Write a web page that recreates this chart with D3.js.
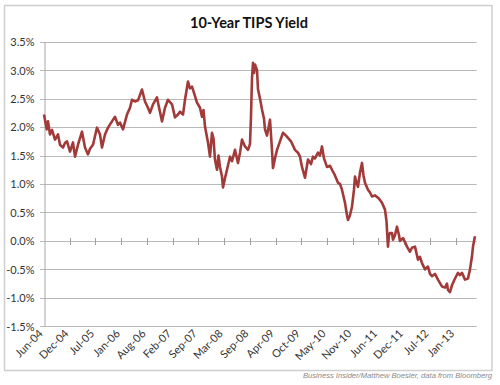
<!DOCTYPE html>
<html>
<head>
<meta charset="utf-8">
<script src="https://cdn.jsdelivr.net/npm/d3@7"></script>
<style>
	body { margin: 0; background: #fff; }
</style>
</head>
<body>
<script>
const chartTitle = "10-Year TIPS Yield";
const sourceNote = "Business Insider/Matthew Boesler, data from Bloomberg";

// one label every ~6.5 months (Excel category axis label interval)
const tickLabels = ["Jun-04", "Dec-04", "Jul-05", "Jan-06", "Aug-06", "Feb-07", "Sep-07", "Mar-08",
	"Sep-08", "Apr-09", "Oct-09", "May-10", "Nov-10", "Jun-11", "Dec-11", "Jul-12", "Jan-13"];

const yTicks = [3.5, 3.0, 2.5, 2.0, 1.5, 1.0, 0.5, 0.0, -0.5, -1.0, -1.5];

// [period since Jun-04 (label intervals), yield %]
const tipsYield = [
	[0.000, 2.22], [0.105, 1.96], [0.155, 2.10], [0.233, 1.87], [0.311, 1.95], [0.428, 1.78],
	[0.544, 1.87], [0.622, 1.69], [0.739, 1.64], [0.816, 1.72], [0.894, 1.75], [1.011, 1.57],
	[1.127, 1.73], [1.205, 1.48], [1.322, 1.69], [1.477, 1.92], [1.594, 1.64], [1.710, 1.52],
	[1.788, 1.62], [1.905, 1.69], [2.060, 1.99], [2.177, 1.87], [2.254, 1.64], [2.371, 1.87],
	[2.488, 1.99], [2.643, 2.10], [2.760, 2.18], [2.876, 2.04], [2.954, 2.08], [3.071, 1.96],
	[3.226, 2.22], [3.343, 2.34], [3.421, 2.48], [3.537, 2.45], [3.654, 2.47], [3.809, 2.66],
	[3.926, 2.45], [4.042, 2.34], [4.120, 2.25], [4.237, 2.40], [4.392, 2.52], [4.470, 2.35],
	[4.587, 2.10], [4.703, 2.34], [4.820, 2.48], [4.975, 2.40], [5.092, 2.17], [5.209, 2.22],
	[5.286, 2.27], [5.403, 2.22], [5.481, 2.48], [5.597, 2.80], [5.675, 2.68], [5.753, 2.71],
	[5.831, 2.60], [5.947, 2.43], [6.064, 2.34], [6.141, 2.18], [6.200, 2.30], [6.258, 2.01],
	[6.375, 1.73], [6.452, 1.48], [6.530, 1.90], [6.588, 1.80], [6.646, 1.43], [6.724, 1.25],
	[6.783, 1.50], [6.841, 1.30], [6.919, 1.13], [6.958, 0.94], [7.035, 1.10], [7.113, 1.25],
	[7.230, 1.48], [7.308, 1.40], [7.424, 1.60], [7.541, 1.37], [7.619, 1.55], [7.696, 1.78],
	[7.813, 1.66], [7.930, 1.60], [8.007, 1.70], [8.046, 2.18], [8.085, 2.85], [8.124, 3.13],
	[8.163, 2.95], [8.202, 3.10], [8.280, 3.00], [8.319, 2.66], [8.397, 2.50], [8.474, 2.31],
	[8.551, 2.15], [8.590, 1.96], [8.668, 1.85], [8.785, 2.13], [8.862, 1.60], [8.901, 1.28],
	[8.979, 1.45], [9.057, 1.60], [9.173, 1.75], [9.290, 1.90], [9.407, 1.85], [9.484, 1.81],
	[9.601, 1.75], [9.756, 1.60], [9.873, 1.55], [9.951, 1.48], [10.028, 1.30], [10.145, 1.11],
	[10.262, 1.43], [10.378, 1.35], [10.456, 1.48], [10.534, 1.45], [10.650, 1.55], [10.728, 1.50],
	[10.806, 1.66], [10.884, 1.45], [11.000, 1.30], [11.117, 1.32], [11.195, 1.25], [11.311, 1.15],
	[11.428, 1.02], [11.506, 1.00], [11.583, 0.90], [11.700, 0.67], [11.778, 0.45], [11.816, 0.37],
	[11.894, 0.45], [11.972, 0.60], [12.050, 0.90], [12.089, 1.13], [12.166, 1.00], [12.205, 0.95],
	[12.283, 1.20], [12.361, 1.37], [12.419, 1.15], [12.477, 1.02], [12.594, 0.90], [12.672, 0.85],
	[12.749, 0.78], [12.866, 0.80], [12.982, 0.76], [13.060, 0.72], [13.138, 0.67], [13.255, 0.55],
	[13.313, 0.35], [13.371, -0.10], [13.410, 0.10], [13.449, 0.14], [13.527, 0.14], [13.566, 0.02],
	[13.643, 0.10], [13.721, 0.25], [13.799, 0.10], [13.838, 0.00], [13.954, 0.05], [14.032, -0.02],
	[14.110, -0.10], [14.226, -0.19], [14.304, -0.12], [14.421, -0.10], [14.538, -0.33], [14.615, -0.28],
	[14.693, -0.39], [14.810, -0.50], [14.926, -0.45], [15.004, -0.58], [15.082, -0.62], [15.198, -0.58],
	[15.315, -0.68], [15.393, -0.74], [15.470, -0.80], [15.587, -0.82], [15.665, -0.75], [15.703, -0.86],
	[15.781, -0.90], [15.859, -0.78], [15.976, -0.66], [16.092, -0.56], [16.170, -0.60], [16.248, -0.56],
	[16.365, -0.68], [16.481, -0.66], [16.559, -0.50], [16.637, -0.27], [16.676, -0.10], [16.753, 0.08]
];

const width = 500, height = 385;
const MARGIN = { top: 41.7, right: 23.3, bottom: 58.7, left: 44 };
const FONT = "Lato, 'Open Sans', sans-serif";
const GRID = "#b9b9b9";
const LINE_COLOR = "#a23a3a";

const svg = d3.select("body").append("svg")
	.attr("width", width)
	.attr("height", height);

svg.append("rect")
	.attr("x", 4.5)
	.attr("y", 5.5)
	.attr("width", 487.5)
	.attr("height", 365)
	.attr("fill", "#fff")
	.attr("stroke", "#cfcfcf")
	.attr("stroke-width", 1.5);

svg.append("text")
	.attr("x", 249)
	.attr("y", 28)
	.attr("text-anchor", "middle")
	.attr("font-family", FONT)
	.attr("font-weight", "bold")
	.attr("font-size", "14.5px")
	.attr("fill", "#111")
	.text(chartTitle);

const x = d3.scaleLinear()
	.domain([0, 16.82])
	.range([MARGIN.left, width - MARGIN.right]);

const y = d3.scaleLinear()
	.domain([-1.5, 3.5])
	.range([height - MARGIN.bottom, MARGIN.top]);

const crisp = v => Math.round(v) + 0.5;

// horizontal gridlines
svg.append("g")
	.selectAll("line")
	.data(yTicks)
	.join("line")
	.attr("x1", MARGIN.left - 4)
	.attr("x2", width - MARGIN.right)
	.attr("y1", d => crisp(y(d)))
	.attr("y2", d => crisp(y(d)))
	.attr("stroke", GRID)
	.attr("stroke-width", 1);

// y axis
const yAxisGroup = svg.append("g")
	.attr("transform", `translate(${crisp(MARGIN.left)},0)`)
	.call(d3.axisLeft(y)
		.tickValues(yTicks)
		.tickSize(0)
		.tickPadding(10)
		.tickFormat(d => d.toFixed(1) + "%"));

yAxisGroup.select(".domain").attr("stroke", "#a8a8a8");
yAxisGroup.selectAll(".tick text")
	.attr("font-family", FONT)
	.attr("font-size", "11px")
	.attr("fill", "#333")
	.attr("dy", "0.35em");

// x axis on the 0% line, with crossing ticks
const zeroY = crisp(y(0));
svg.append("g")
	.selectAll("line")
	.data(d3.range(1, tickLabels.length))
	.join("line")
	.attr("x1", d => crisp(x(d)))
	.attr("x2", d => crisp(x(d)))
	.attr("y1", zeroY - 3.5)
	.attr("y2", zeroY + 3.5)
	.attr("stroke", "#a0a0a0");

// category labels sit below the plot (label position "low")
const xAxisGroup = svg.append("g")
	.attr("transform", `translate(0,${height - MARGIN.bottom})`)
	.call(d3.axisBottom(x)
		.tickValues(d3.range(0, tickLabels.length))
		.tickSize(0)
		.tickFormat(i => tickLabels[i]));

xAxisGroup.select(".domain").remove();
xAxisGroup.selectAll(".tick text")
	.attr("font-family", FONT)
	.attr("font-size", "11px")
	.attr("fill", "#333")
	.attr("text-anchor", "end")
	.attr("dy", null)
	.attr("y", 0)
	.attr("transform", "translate(-1,8) rotate(-45)");

// the series
svg.append("path")
	.datum(tipsYield)
	.attr("fill", "none")
	.attr("stroke", LINE_COLOR)
	.attr("stroke-width", 2.6)
	.attr("stroke-linejoin", "round")
	.attr("d", d3.line()
		.x(d => x(d[0]))
		.y(d => y(d[1])));

svg.append("text")
	.attr("x", 492)
	.attr("y", 378)
	.attr("text-anchor", "end")
	.attr("font-family", "'Liberation Sans', Arial, sans-serif")
	.attr("font-style", "italic")
	.attr("font-size", "7.6px")
	.attr("fill", "#8a8a8a")
	.text(sourceNote);
</script>
</body>
</html>
